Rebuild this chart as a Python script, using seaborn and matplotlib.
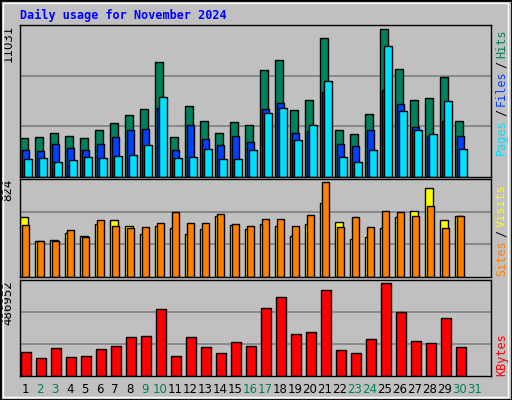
import matplotlib
matplotlib.use("Agg")
import matplotlib.pyplot as plt
import seaborn as sns
import numpy as np
from matplotlib.patches import Rectangle

days = list(range(1, 31))
hits = [2950, 3020, 3320, 3095, 2945, 3545, 4070, 4665, 5115, 8560, 3020, 5340, 4220, 3320, 4140,
        3920, 8035, 8710, 5040, 5790, 10355, 3545, 3245, 4740, 11031, 8110, 5790, 5940, 7510, 4220]
files = [2045, 1970, 2495, 2195, 2045, 2495, 3020, 3545, 3620, 5190, 2045, 3920, 2870, 2420, 3095,
         2645, 5115, 5565, 3320, 3470, 6390, 2495, 2345, 3545, 6540, 5490, 3770, 3095, 4220, 3095]
pages = [1370, 1450, 1150, 1300, 1520, 1450, 1600, 1670, 2420, 6015, 1450, 1520, 2120, 1370, 1370,
         2045, 4815, 5190, 2795, 3920, 7210, 1520, 1150, 2045, 9760, 4965, 3545, 3245, 5715, 2120]
sites = [519, 313, 322, 385, 358, 457, 493, 439, 376, 439, 421, 376, 412, 528, 448,
         412, 457, 439, 358, 457, 645, 475, 331, 349, 421, 519, 573, 770, 493, 528]
visits = [448, 313, 313, 403, 349, 493, 439, 421, 430, 466, 564, 466, 466, 546, 457,
          439, 501, 501, 439, 537, 824, 430, 519, 430, 573, 564, 528, 618, 421, 528]
kbytes = [123100, 96300, 144500, 101700, 107000, 139100, 155200, 203300, 208700, 347800,
          107000, 203300, 149800, 117700, 176600, 155200, 353200, 412000, 219400, 230100,
          449500, 133800, 117700, 192600, 486952, 331800, 181900, 171200, 305000, 149800]
tick_days = list(range(1, 32))
weekend_days = [2, 3, 9, 10, 16, 17, 23, 24, 30, 31]

sns.set_style("white")
plt.rcParams['font.family'] = ['DejaVu Sans']

BG = "#C0C0C0"
W, H = 512, 400
fig = plt.figure(figsize=(5.12, 4.0), dpi=100, facecolor=BG)

# beveled frame
fig.patches.append(Rectangle((0, 0), 1, 1, transform=fig.transFigure, fill=False,
                             edgecolor="black", linewidth=2))
fig.patches.append(Rectangle((0.006, 0.008), 0.986, 0.984, transform=fig.transFigure, fill=False,
                             edgecolor="white", linewidth=1))

x = np.array(days)
XL = (0.667, 32.07)

def make_ax(bottom, height):
    ax = fig.add_axes([0.039, bottom, 0.92, height])
    ax.set_facecolor(BG)
    ax.set_xlim(*XL)
    ax.set_xticks([])
    ax.set_yticks([])
    for s in ax.spines.values():
        s.set_color("black")
        s.set_linewidth(1)
    return ax

def grid(ax, top):
    for f in (1 / 3, 2 / 3):
        ax.axhline(top * f, color="#808080", linewidth=1.2, zorder=0)

bar_kw = dict(align="edge", edgecolor="black", linewidth=1, zorder=2)

# Hits / Files / Pages
ax1 = make_ax(0.5575, 0.38)
top1 = max(hits) * 1.03
ax1.set_ylim(0, top1)
grid(ax1, top1)
ax1.bar(x - 0.33, hits, width=0.5, color="#00805C", **bar_kw)
ax1.bar(x - 0.22, files, width=0.5, color="#0040FF", **bar_kw)
ax1.bar(x - 0.06, pages, width=0.5, color="#00E0FF", **bar_kw)

# Sites / Visits
ax2 = make_ax(0.3075, 0.245)
top2 = max(visits) * 1.03
ax2.set_ylim(0, top2)
grid(ax2, top2)
ax2.bar(x - 0.33, sites, width=0.5, color="#FFFF00", **bar_kw)
ax2.bar(x - 0.22, visits, width=0.5, color="#FF8000", **bar_kw)

# KBytes
ax3 = make_ax(0.06, 0.24)
top3 = max(kbytes) * 1.03
ax3.set_ylim(0, top3)
grid(ax3, top3)
ax3.bar(x - 0.29, kbytes, width=0.68, color="#FF0000", **bar_kw)

# day labels
for d in tick_days:
    col = "#00805C" if d in weekend_days else "black"
    ax3.text(d, -0.07, str(d), transform=ax3.get_xaxis_transform(), ha="center", va="top",
             fontsize=8.5, color=col)

mono = "DejaVu Sans Mono"
fig.text(0.039, 0.962, "Daily usage for November 2024", family=mono, fontweight="bold",
         color="#0000FF", fontsize=8.5, ha="left", va="center")

# max value labels
for ax, val in ((ax1, max(hits)), (ax2, max(visits)), (ax3, max(kbytes))):
    ax.text(-0.012, 1.0, str(val), transform=ax.transAxes, rotation=90, ha="right", va="top",
            fontsize=8.5, color="black")

fig.canvas.draw()
renderer = fig.canvas.get_renderer()

def right_label(parts, y_bottom_px, y_top_px=None):
    # stack rotated texts bottom to top, y in pixels from the top of the image
    texts = []
    for txt, col in parts:
        t = fig.text(495 / W, 0, txt, rotation=90, ha="left", va="bottom",
                     family=mono, fontsize=8.5, color=col)
        texts.append(t)
    heights = [t.get_window_extent(renderer).height for t in texts]
    gap = 3
    total = sum(heights) + gap * (len(texts) - 1)
    if y_top_px is not None:
        y_bottom_px = y_top_px + total
    y = H - y_bottom_px
    for t, h in zip(texts, heights):
        t.set_y(y / H)
        y += h + gap

right_label([("Pages", "#00E0FF"), ("/", "black"), ("Files", "#0040FF"),
             ("/", "black"), ("Hits", "#00805C")], None, y_top_px=29)
right_label([("Sites", "#FF8000"), ("/", "black"), ("Visits", "#FFFF00")], 276)
right_label([("KBytes", "#FF0000")], 376)

fig.savefig("out.png", dpi=100, facecolor=BG)
